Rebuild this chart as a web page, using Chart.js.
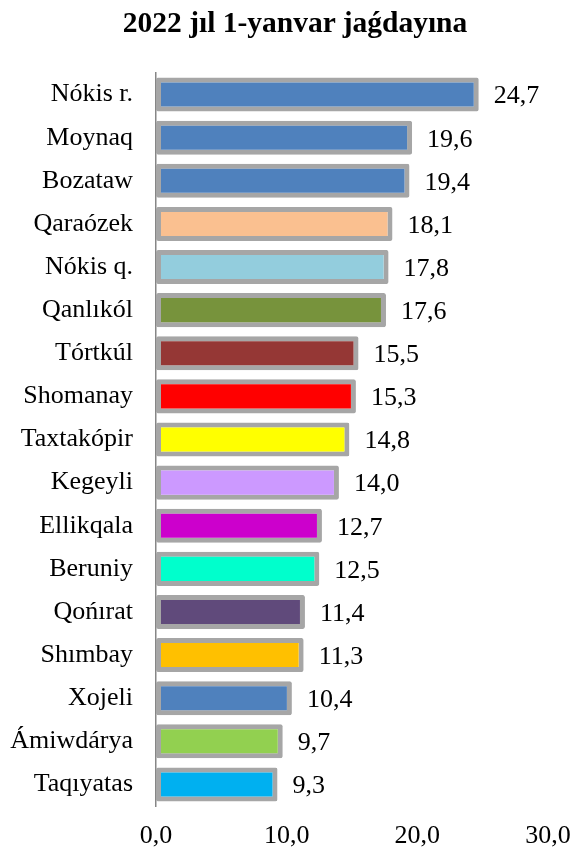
<!DOCTYPE html>
<html>
<head>
<meta charset="utf-8">
<script src="https://cdn.jsdelivr.net/npm/chart.js@4/dist/chart.umd.min.js"></script>
<style>
  body { margin: 0; background: #fff; }
  #wrap { position: relative; width: 576px; height: 850px; }
  #title {
    position: absolute; left: 0; top: 5px; width: 590px;
    text-align: center;
    font: bold 29.5px/34px "Liberation Serif", "Times New Roman", serif;
    color: #000;
    z-index: 1;
  }
  canvas { position: absolute; left: 0; top: 0; }
</style>
</head>
<body>
<div id="wrap">
  <div id="title">2022 jıl 1-yanvar jaǵdayına</div>
  <canvas id="chart" width="576" height="850"></canvas>
</div>
<script>
const districts = [
  "Nókis r.", "Moynaq", "Bozataw", "Qaraózek", "Nókis q.", "Qanlıkól",
  "Tórtkúl", "Shomanay", "Taxtakópir", "Kegeyli", "Ellikqala", "Beruniy",
  "Qońırat", "Shımbay", "Xojeli", "Ámiwdárya", "Taqıyatas"
];
const values = [24.7, 19.6, 19.4, 18.1, 17.8, 17.6, 15.5, 15.3, 14.8, 14.0, 12.7, 12.5, 11.4, 11.3, 10.4, 9.7, 9.3];
const barColors = [
  "#4F81BD", "#4F81BD", "#4F81BD", "#FAC090", "#93CDDD", "#77933C",
  "#953735", "#FF0000", "#FFFF00", "#CC99FF", "#CC00CC", "#00FFCC",
  "#604A7B", "#FFC000", "#4F81BD", "#92D050", "#00B0F0"
];
const xTicks = [0, 10, 20, 30];

const serif = "'Liberation Serif', 'Times New Roman', serif";
const fmt = (v) => v.toFixed(1).replace(".", ",");

// value labels to the right of each bar
const valueLabels = {
  id: "valueLabels",
  afterDatasetsDraw(chart) {
    const ctx = chart.ctx;
    const meta = chart.getDatasetMeta(0);
    ctx.save();
    ctx.font = "26px " + serif;
    ctx.fillStyle = "#000";
    ctx.textAlign = "left";
    ctx.textBaseline = "middle";
    meta.data.forEach((bar, i) => {
      ctx.fillText(fmt(values[i]), bar.x + 15, bar.y + 2);
    });
    ctx.restore();
  }
};

new Chart(document.getElementById("chart"), {
  type: "bar",
  data: {
    labels: districts,
    datasets: [{
      data: values,
      backgroundColor: barColors,
      borderColor: "#A6A6A6",
      borderWidth: 5,
      borderSkipped: false,
      borderRadius: 2,
      barPercentage: 0.79,
      categoryPercentage: 1
    }]
  },
  options: {
    indexAxis: "y",
    responsive: false,
    animation: false,
    layout: { padding: { top: 73, right: 28, bottom: 0, left: 0 } },
    plugins: {
      legend: { display: false },
      tooltip: { enabled: false }
    },
    scales: {
      x: {
        min: 0,
        max: 30,
        afterBuildTicks: (scale) => {
          scale.ticks = xTicks.map((v) => ({ value: v }));
        },
        afterFit: (scale) => {
          scale.height = 44;
          scale.paddingLeft = 0;
          scale.paddingRight = 0;
        },
        grid: { display: false, drawTicks: false },
        border: { display: false },
        ticks: {
          padding: 15,
          color: "#000",
          font: { family: serif, size: 26 },
          callback: (v) => fmt(v)
        }
      },
      y: {
        afterFit: (scale) => { scale.width = 156; },
        grid: { drawOnChartArea: false, drawTicks: false },
        border: { display: true, color: "#868686", width: 1.5 },
        ticks: {
          padding: 23,
          color: "#000",
          font: { family: serif, size: 26 }
        }
      }
    }
  },
  plugins: [valueLabels]
});
</script>
</body>
</html>
